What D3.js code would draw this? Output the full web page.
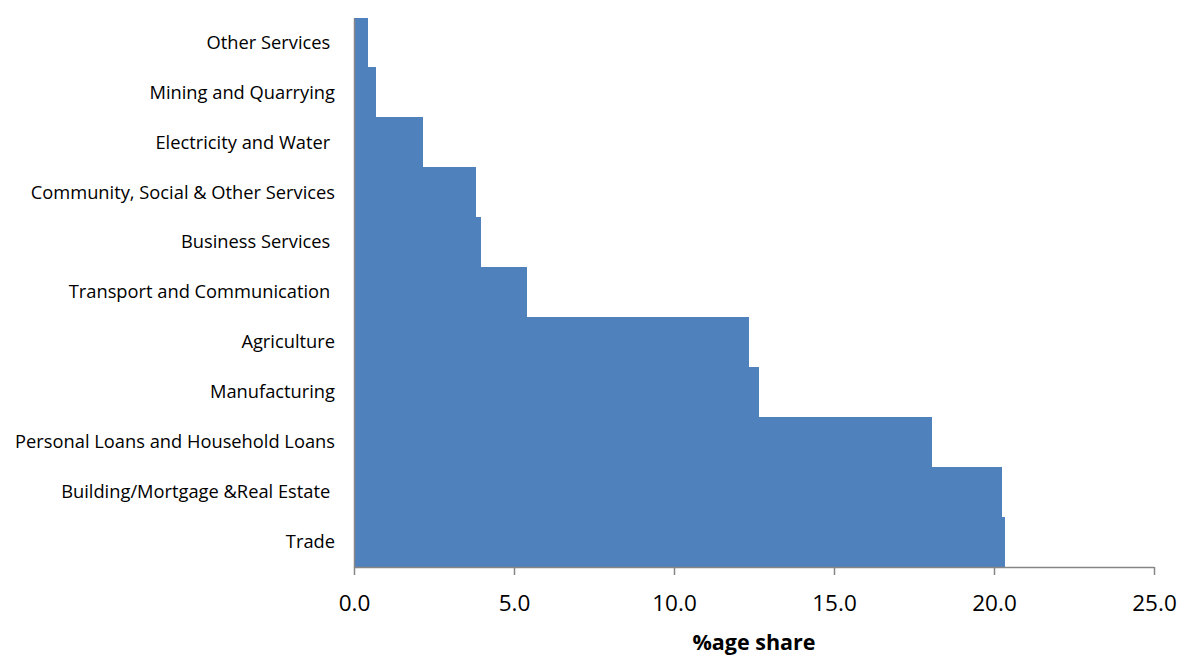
<!DOCTYPE html>
<html>
<head>
<meta charset="utf-8">
<script src="https://cdn.jsdelivr.net/npm/d3@7"></script>
<style>
  html, body { margin: 0; padding: 0; background: #fff; }
  svg { display: block; }
  text { font-family: "Open Sans", "Liberation Sans", sans-serif; }
</style>
</head>
<body>
<svg id="chart" width="1179" height="655"></svg>
<script>
// Sector labels, top to bottom
const categories = [
  "Other Services ",
  "Mining and Quarrying",
  "Electricity and Water ",
  "Community, Social & Other Services",
  "Business Services ",
  "Transport and Communication ",
  "Agriculture",
  "Manufacturing",
  "Personal Loans and Household Loans",
  "Building/Mortgage &Real Estate ",
  "Trade"
];
// Share of credit (%) for each sector
const shares = [0.43, 0.69, 2.15, 3.82, 3.97, 5.41, 12.34, 12.65, 18.06, 20.25, 20.33];
const xTicks = [0, 5, 10, 15, 20, 25];
const xTitle = "%age share";

const svg = d3.select("#chart");
const margin = { left: 354, right: 25, top: 18, bottom: 88 };
const W = 1179, H = 655;
const innerW = W - margin.left - margin.right;
const innerH = H - margin.top - margin.bottom;

const x = d3.scaleLinear().domain([0, 25]).range([0, innerW]);
const y = d3.scaleBand().domain(categories).range([0, innerH]).padding(0);

const g = svg.append("g").attr("transform", `translate(${margin.left},${margin.top})`);

// bars touch each other; crisp edges keep the seams from showing
g.selectAll("rect.bar")
  .data(categories)
  .enter().append("rect")
  .attr("class", "bar")
  .attr("x", 0)
  .attr("y", d => Math.floor(y(d)))
  .attr("width", (d, i) => x(shares[i]))
  .attr("height", d => Math.ceil(y(d) + y.bandwidth()) - Math.floor(y(d)))
  .attr("fill", "#4F81BD")
  .attr("shape-rendering", "crispEdges");

// x axis
const xAxis = g.append("g")
  .attr("transform", `translate(0,${innerH})`)
  .call(d3.axisBottom(x).tickValues(xTicks).tickFormat(d3.format(".1f")).tickSize(8).tickSizeOuter(0).tickPadding(20));
xAxis.select(".domain").attr("stroke", "#868686").attr("stroke-width", 1.5);
xAxis.selectAll(".tick line").attr("stroke", "#868686").attr("stroke-width", 1.5);
xAxis.selectAll(".tick text").attr("fill", "#000").style("font-size", "22.5px");

// y axis
const yAxis = g.append("g")
  .call(d3.axisLeft(y).tickSize(0).tickPadding(19));
yAxis.select(".domain").attr("stroke", "#868686").attr("stroke-width", 1.5);
yAxis.selectAll(".tick text")
  .attr("fill", "#000")
  .style("font-size", "18.3px")
  .style("white-space", "pre")
  .attr("xml:space", "preserve");

// axis title
svg.append("text")
  .attr("x", margin.left + innerW / 2)
  .attr("y", 650)
  .attr("text-anchor", "middle")
  .style("font-size", "21.5px")
  .style("font-weight", "bold")
  .text(xTitle);
</script>
</body>
</html>
